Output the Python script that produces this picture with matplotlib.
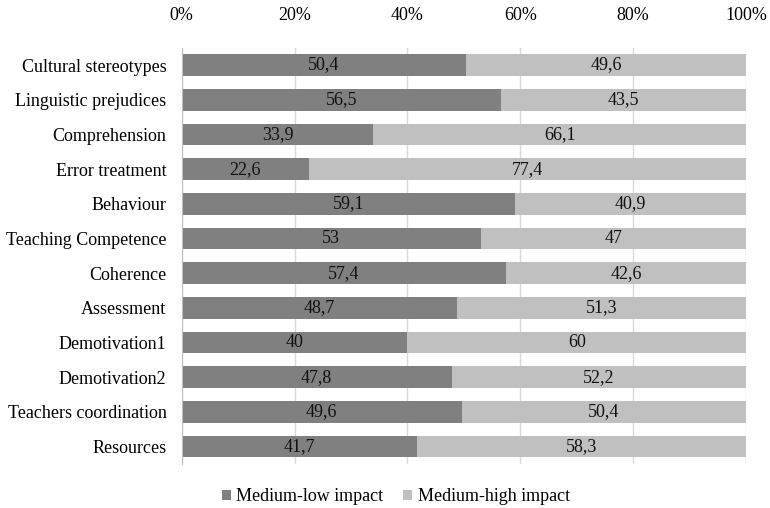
import matplotlib
matplotlib.use("Agg")
import matplotlib.pyplot as plt
import numpy as np

categories = ["Cultural stereotypes", "Linguistic prejudices", "Comprehension",
              "Error treatment", "Behaviour", "Teaching Competence", "Coherence",
              "Assessment", "Demotivation1", "Demotivation2",
              "Teachers coordination", "Resources"]
low = [50.4, 56.5, 33.9, 22.6, 59.1, 53, 57.4, 48.7, 40, 47.8, 49.6, 41.7]
high = [49.6, 43.5, 66.1, 77.4, 40.9, 47, 42.6, 51.3, 60, 52.2, 50.4, 58.3]
series_names = ["Medium-low impact", "Medium-high impact"]
tick_vals = [0, 20, 40, 60, 80, 100]

plt.rcParams['font.family'] = ['Liberation Serif', 'DejaVu Serif']
FS = 13

fig = plt.figure(figsize=(7.7, 5.08), dpi=100)
ax = fig.add_axes([0.236, 0.087, 0.733, 0.819])

y = np.arange(len(categories))
c_low, c_high = "#808080", "#c0c0c0"
b1 = ax.barh(y, low, height=0.63, color=c_low, label=series_names[0], zorder=2)
b2 = ax.barh(y, high, left=low, height=0.63, color=c_high, label=series_names[1], zorder=2)

def fmt(v):
    s = f"{v:g}"
    return s.replace(".", ",")

for yi, lo, hi in zip(y, low, high):
    ax.text(lo / 2, yi, fmt(lo), ha="center", va="center", fontsize=FS, color="#111111", zorder=3)
    ax.text(lo + hi / 2, yi, fmt(hi), ha="center", va="center", fontsize=FS, color="#111111", zorder=3)

ax.set_xlim(0, 100)
ax.set_ylim(len(categories) - 0.5, -0.5)
ax.set_yticks(y)
ax.set_yticklabels(categories, fontsize=FS)
ax.set_xticks(tick_vals)
ax.set_xticklabels([f"{t}%" for t in tick_vals], fontsize=FS)
ax.xaxis.tick_top()
ax.tick_params(axis="x", length=0, pad=17)
ax.tick_params(axis="y", length=0, pad=11)
ax.grid(axis="x", color="#d9d9d9", linewidth=1, zorder=0)
for s in ["top", "right", "bottom"]:
    ax.spines[s].set_visible(False)
ax.spines["left"].set_color("#bfbfbf")

fig.legend(handles=[b1, b2], labels=series_names, loc="center", bbox_to_anchor=(0.514, 0.022),
           ncol=2, frameon=False, fontsize=FS, handlelength=0.5, handleheight=0.5,
           handletextpad=0.3, columnspacing=1.1)

fig.savefig("out.png", dpi=100)
